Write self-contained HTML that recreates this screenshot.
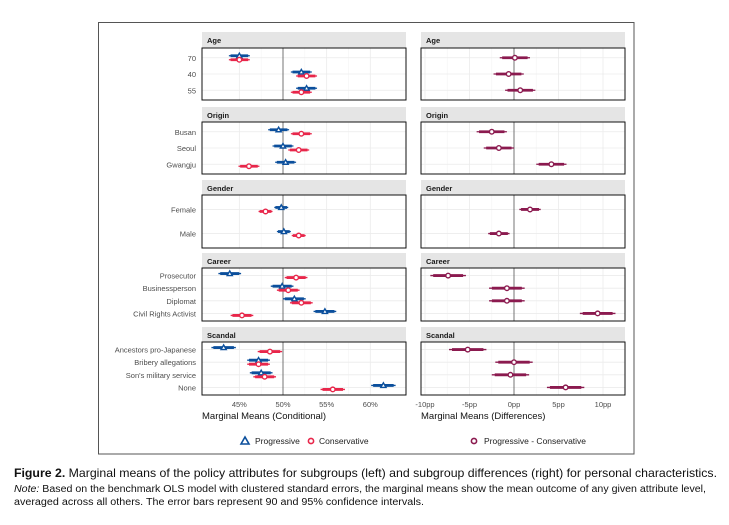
<!DOCTYPE html>
<html><head><meta charset="utf-8"><style>
body{margin:0;background:#fff;}
svg{display:block;font-family:"Liberation Sans",sans-serif;}
</style></head><body>
<svg id="c" width="729" height="525" viewBox="0 0 729 525">
<rect x="98.5" y="22.5" width="535.5" height="431.5" fill="none" stroke="#555" stroke-width="1"/>
<g id="plot"></g>
<g>
<path d="M241,444 L245,437 L249,444 Z" fill="#fff" stroke="#0b4f9c" stroke-width="1.6"/>
<text x="255" y="444" font-size="8.5" fill="#222">Progressive</text>
<circle cx="311" cy="441" r="2.6" fill="#fff" stroke="#e8264a" stroke-width="1.6"/>
<text x="319" y="444" font-size="8.5" fill="#222">Conservative</text>
<circle cx="474" cy="441" r="2.6" fill="#fff" stroke="#8b1a4f" stroke-width="1.6"/>
<text x="484" y="444" font-size="8.5" fill="#222">Progressive - Conservative</text>
</g>
<g fill="#111">
<text x="14" y="477" font-size="12" textLength="703" lengthAdjust="spacingAndGlyphs"><tspan font-weight="bold">Figure 2.</tspan> Marginal means of the policy attributes for subgroups (left) and subgroup differences (right) for personal characteristics.</text>
<text x="14" y="492" font-size="10" textLength="692" lengthAdjust="spacingAndGlyphs"><tspan font-style="italic">Note:</tspan> Based on the benchmark OLS model with clustered standard errors, the marginal means show the mean outcome of any given attribute level,</text>
<text x="14" y="505" font-size="10" textLength="410" lengthAdjust="spacingAndGlyphs">averaged across all others. The error bars represent 90 and 95% confidence intervals.</text>
</g>
</svg>
<script>
const facets=["Age","Origin","Gender","Career","Scandal"];
const levels=[["70","40","55"],["Busan","Seoul","Gwangju"],["Female","Male"],["Prosecutor","Businessperson","Diplomat","Civil Rights Activist"],["Ancestors pro-Japanese","Bribery allegations","Son's military service","None"]];
const progressive=[[45.0,52.1,52.7],[49.5,50.0,50.3],[49.8,50.1],[43.9,49.9,51.3,54.8],[43.2,47.2,47.5,61.5]];
const conservative=[[45.0,52.7,52.1],[52.1,51.8,46.1],[48.0,51.8],[51.5,50.6,52.1,45.3],[48.5,47.2,47.9,55.7]];
const ciHalf=[[1.2,1.2,1.2],[1.2,1.2,1.2],[0.8,0.8],[1.3,1.3,1.3,1.3],[1.4,1.3,1.3,1.4]];
const diffs=[[0.1,-0.6,0.7],[-2.5,-1.7,4.2],[1.8,-1.7],[-7.4,-0.8,-0.8,9.4],[-5.2,0.0,-0.4,5.8]];
const diffHalf=[[1.7,1.7,1.7],[1.7,1.7,1.7],[1.2,1.2],[2.0,2.0,2.0,2.0],[2.1,2.1,2.1,2.1]];
const leftTicks=[45,50,55,60];
const leftTickLabels=["45%","50%","55%","60%"];
const rightTicks=[-10,-5,0,5,10];
const rightTickLabels=["-10pp","-5pp","0pp","5pp","10pp"];

const NS="http://www.w3.org/2000/svg";
const g=document.getElementById('plot');
function mk(t,a,p){const e=document.createElementNS(NS,t);for(const k in a)e.setAttribute(k,a[k]);(p||g).appendChild(e);return e;}
const xL=v=>283+(v-50)*8.73;
const xR=v=>514+v*8.9;
const L={x0:202,x1:406}, R={x0:421,x1:625};
const strips=[[32,48,100],[107,122,174],[180,195,248],[253,268,321],[327,342,395]];
const blue="#0b4f9c", red="#e8264a", purple="#8b1a4f";

function interval(sc,v,h,y,col,name){
  let e=mk('line',{x1:sc(v-h),x2:sc(v+h),y1:y,y2:y,stroke:col,'stroke-width':1.3});
  
  
  e=mk('line',{x1:sc(v-h*0.84),x2:sc(v+h*0.84),y1:y,y2:y,stroke:col,'stroke-width':2.8});
  
  
}
function tri(x,y,col,name){
  const e=mk('path',{d:`M${x-2.6},${y+2} L${x},${y-2.6} L${x+2.6},${y+2} Z`,fill:'#fff',stroke:col,'stroke-width':1.4});
  
  
}
function circ(x,y,col,name){
  const e=mk('circle',{cx:x,cy:y,r:2.3,fill:'#fff',stroke:col,'stroke-width':1.4});
  
  
}

facets.forEach((f,fi)=>{
  const [st,pt,pb]=strips[fi];
  const n=levels[fi].length, h=pb-pt;
  const rowY=i=>pt+(i+0.6)*h/(n+0.2);
  [[L,xL,leftTicks,50,'left'],[R,xR,rightTicks,0,'right']].forEach(([P,sc,ticks,ref,side])=>{
    let e=mk('rect',{x:P.x0,y:st,width:P.x1-P.x0,height:pt-st,fill:'#e5e5e5'});
    
    
    e=mk('text',{x:P.x0+5,y:st+11,'font-size':7.5,'font-weight':'bold',fill:'#1a1a1a'});
    e.textContent=f;
    
    
    ticks.forEach((t,ti)=>{
      e=mk('line',{x1:sc(t),x2:sc(t),y1:pt,y2:pb,stroke:'#ebebeb','stroke-width':0.8});
      
      
      if(ti<ticks.length-1){const m=(t+ticks[ti+1])/2;
        e=mk('line',{x1:sc(m),x2:sc(m),y1:pt,y2:pb,stroke:'#f4f4f4','stroke-width':0.6});
        
        }
    });
    for(let i=0;i<n;i++){
      e=mk('line',{x1:P.x0,x2:P.x1,y1:rowY(i),y2:rowY(i),stroke:'#ebebeb','stroke-width':0.8});
      
      
    }
    e=mk('line',{x1:sc(ref),x2:sc(ref),y1:pt,y2:pb,stroke:'#666','stroke-width':0.9});
    
    
  });
  levels[fi].forEach((lv,i)=>{
    const y=rowY(i);
    let e=mk('text',{x:196,y:y+3,'font-size':7.5,fill:'#4d4d4d','text-anchor':'end'});
    e.textContent=lv;
    
    
    interval(xL,progressive[fi][i],ciHalf[fi][i],y-2,blue,'progressive');
    tri(xL(progressive[fi][i]),y-2,blue,'progressive-point');
    interval(xL,conservative[fi][i],ciHalf[fi][i],y+2,red,'conservative');
    circ(xL(conservative[fi][i]),y+2,red,'conservative-point');
    interval(xR,diffs[fi][i],diffHalf[fi][i],y,purple,'difference');
    circ(xR(diffs[fi][i]),y,purple,'difference-point');
  });
  [L,R].forEach((P,k)=>{
    const e=mk('rect',{x:P.x0,y:pt,width:P.x1-P.x0,height:h,fill:'none',stroke:'#111','stroke-width':1});
    
    
  });
});
leftTicks.forEach((t,i)=>{
  const e=mk('text',{x:xL(t),y:407,'font-size':7.5,fill:'#4d4d4d','text-anchor':'middle'});
  e.textContent=leftTickLabels[i];
  
  
});
rightTicks.forEach((t,i)=>{
  const e=mk('text',{x:xR(t),y:407,'font-size':7.5,fill:'#4d4d4d','text-anchor':'middle'});
  e.textContent=rightTickLabels[i];
  
  
});
let t=mk('text',{x:202,y:419,'font-size':9.5,fill:'#111'});
t.textContent='Marginal Means (Conditional)';


t=mk('text',{x:421,y:419,'font-size':9.5,fill:'#111'});
t.textContent='Marginal Means (Differences)';


</script>
</body></html>
